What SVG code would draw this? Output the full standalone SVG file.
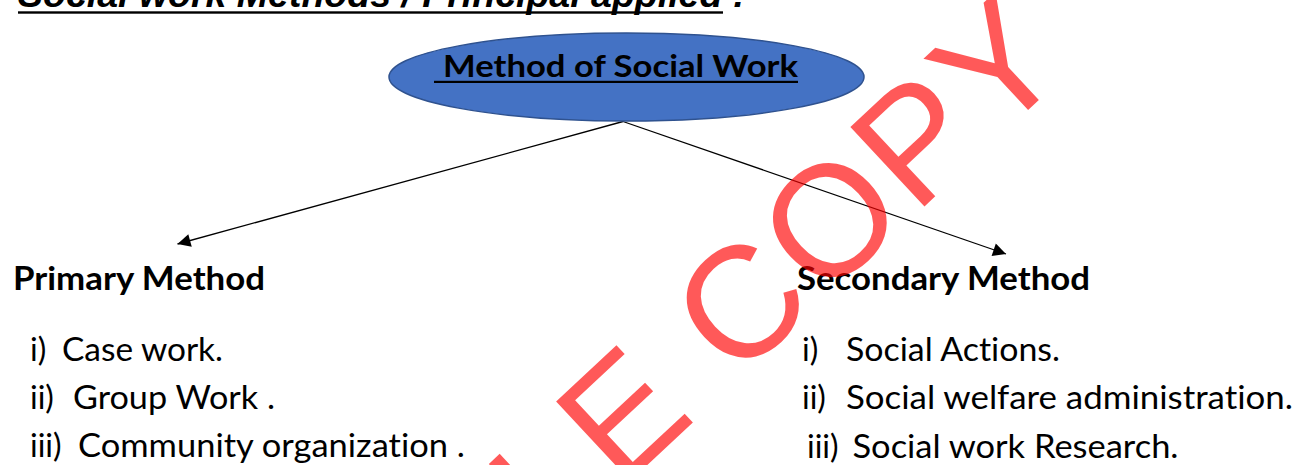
<svg xmlns="http://www.w3.org/2000/svg" width="1310" height="465" viewBox="0 0 1310 465">
  <style>
    text { font-variant-ligatures: none; font-feature-settings: "liga" 0, "clig" 0; }
    .title { font-family: "Liberation Sans", Arial, sans-serif; font-weight: bold; font-style: italic; font-size: 37.5px; fill: #000; }
    .head { font-family: Lato, "Open Sans", sans-serif; font-weight: bold; font-size: 32.5px; fill: #000; }
    .item { font-family: Lato, "Open Sans", sans-serif; font-size: 32px; fill: #000; }
    .node-text { font-family: Lato, "Open Sans", sans-serif; font-weight: bold; font-size: 31px; fill: #000; }
    .conn { stroke: #000; stroke-width: 1.3; fill: none; marker-end: url(#arrow); }
    .wm { font-family: "Liberation Sans", Arial, sans-serif; font-size: 158px; fill: #ff0000; fill-opacity: 0.65; }
  </style>
  <defs>
    <marker id="arrow" viewBox="0 0 10 10" refX="10" refY="5" markerUnits="userSpaceOnUse" markerWidth="16" markerHeight="13" orient="auto">
      <path d="M0,0 L10,5 L0,10 z" fill="#000"/>
    </marker>
  </defs>
  <rect width="1310" height="465" fill="#fff"/>

  <g id="title">
    <text class="title" x="18" y="7">Social work Methods / Principal applied :</text>
    <rect x="18" y="11.3" width="705" height="2.4" fill="#000"/>
  </g>

  <g id="connectors">
    <line class="conn" x1="623" y1="121.5" x2="177.5" y2="244"/>
    <line class="conn" x1="623" y1="121.5" x2="1006" y2="254"/>
  </g>

  <g id="node-method">
    <ellipse cx="626.5" cy="77" rx="237.5" ry="44" fill="#4472C4" stroke="#2F528F" stroke-width="1.5"/>
    <text class="node-text" x="443" y="77" textLength="355" lengthAdjust="spacingAndGlyphs">Method of Social Work</text>
    <rect x="434" y="80.8" width="364" height="2.2" fill="#000"/>
  </g>

  <g id="node-primary">
    <text class="head" x="13" y="290" textLength="252" lengthAdjust="spacingAndGlyphs">Primary Method</text>
    <text class="item" x="30" y="361">i)</text>
    <text class="item" x="62" y="361" textLength="161" lengthAdjust="spacingAndGlyphs">Case work.</text>
    <text class="item" x="30" y="409">ii)</text>
    <text class="item" x="73" y="409" textLength="202" lengthAdjust="spacingAndGlyphs">Group Work .</text>
    <text class="item" x="30" y="457">iii)</text>
    <text class="item" x="78" y="457" textLength="387" lengthAdjust="spacingAndGlyphs">Community organization .</text>
  </g>

  <g id="node-secondary">
    <text class="head" x="797" y="290" textLength="293" lengthAdjust="spacingAndGlyphs">Secondary Method</text>
    <text class="item" x="802" y="361">i)</text>
    <text class="item" x="846" y="361" textLength="214" lengthAdjust="spacingAndGlyphs">Social Actions.</text>
    <text class="item" x="802" y="409">ii)</text>
    <text class="item" x="846" y="409" textLength="447" lengthAdjust="spacingAndGlyphs">Social welfare administration.</text>
    <text class="item" x="807" y="458">iii)</text>
    <text class="item" x="852.5" y="458" textLength="326" lengthAdjust="spacingAndGlyphs">Social work Research.</text>
  </g>

  <g id="watermark">
    <text class="wm" transform="translate(553.6,552.3) rotate(-43)" letter-spacing="4">LE COPY</text>
  </g>
</svg>
